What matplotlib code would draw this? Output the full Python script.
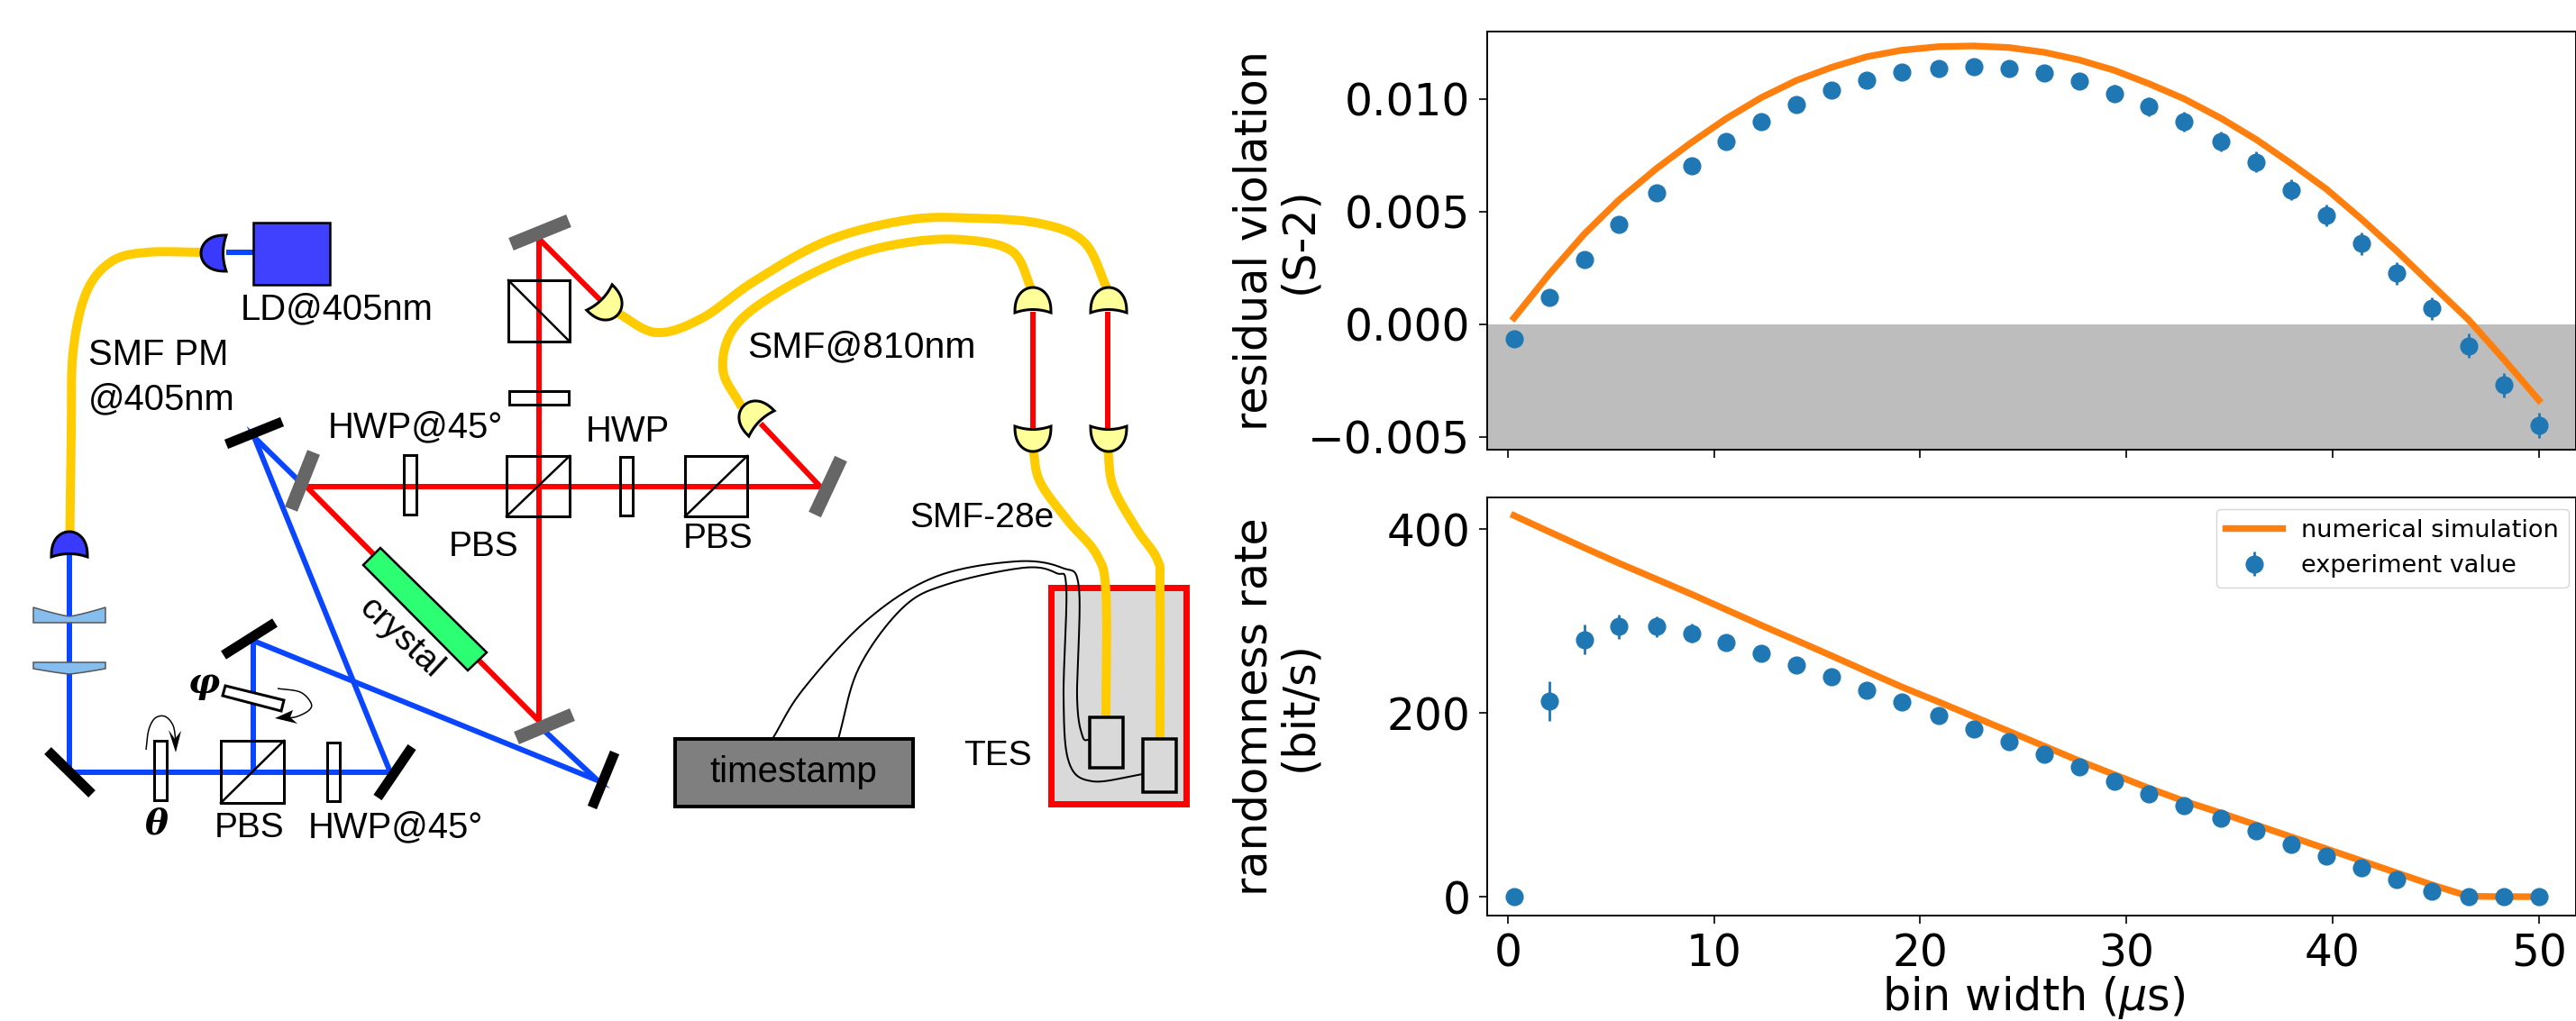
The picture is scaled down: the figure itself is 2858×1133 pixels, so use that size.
import numpy as np
import matplotlib
matplotlib.use('Agg')
import matplotlib.pyplot as plt
from matplotlib.patches import Polygon, Rectangle

W, H = 2858, 1133
DPI = 100

# measured data
bin_width = [0.3, 2.0, 3.7, 5.4, 7.2, 8.9, 10.6, 12.3, 14.0, 15.7, 17.4, 19.1, 20.9, 22.6, 24.3,
             26.0, 27.7, 29.4, 31.1, 32.8, 34.6, 36.3, 38.0, 39.7, 41.4, 43.1, 44.8, 46.6, 48.3, 50.0]
violation_exp = [-0.00066, 0.00118, 0.00288, 0.00442, 0.00581, 0.00703, 0.00810, 0.00897, 0.00976, 0.01037,
                 0.01084, 0.01120, 0.01136, 0.01142, 0.01134, 0.01113, 0.01079, 0.01024, 0.00965, 0.00899,
                 0.00810, 0.00720, 0.00596, 0.00484, 0.00357, 0.00225, 0.00070, -0.00096, -0.00271, -0.00449]
violation_err = [0.00030, 0.00030, 0.00030, 0.00030, 0.00030, 0.00030, 0.00030, 0.00030, 0.00030, 0.00030,
                 0.00030, 0.00030, 0.00030, 0.00030, 0.00030, 0.00033, 0.00036, 0.00039, 0.00042, 0.00044,
                 0.00045, 0.00046, 0.00047, 0.00048, 0.00049, 0.00049, 0.00050, 0.00054, 0.00055, 0.00055]
violation_sim = [0.00027, 0.00221, 0.00399, 0.00552, 0.00690, 0.00806, 0.00913, 0.01006, 0.01082, 0.01140,
                 0.01187, 0.01216, 0.01232, 0.01235, 0.01228, 0.01207, 0.01173, 0.01127, 0.01067, 0.01000,
                 0.00913, 0.00819, 0.00712, 0.00599, 0.00466, 0.00325, 0.00175, 0.00018, -0.00157, -0.00338]
rate_exp = [0, 213, 280, 294, 294, 287, 277, 265, 252, 239, 225, 212, 197, 183, 169,
            155, 141, 126, 112, 99, 85, 72, 57, 44, 31, 19, 6, 0, 0, 0]
rate_err = [0, 22, 16, 13, 11, 10, 8, 7, 7, 7, 6, 6, 6, 6, 6,
            6, 6, 6, 6, 6, 6, 6, 6, 5, 5, 5, 4, 0, 0, 0]
rate_sim = [415, 397.4, 380, 363, 345.8, 329.4, 312.4, 295.4, 279, 262.3, 245.3, 228.4, 212, 196, 180,
            164, 148, 133, 118, 104, 91, 78, 65, 52, 39, 26, 13, 0.4, 0, 0]
x_ticks = [0, 10, 20, 30, 40, 50]
violation_ticks = [-0.005, 0.0, 0.005, 0.010]
rate_ticks = [0, 200, 400]

BLUE = '#0a46ff'
RED = '#ff0000'
FIBRE = '#ffcc00'
GRAY = '#666666'
SANS = 'Liberation Sans'


def lw(px):
    return px * 72.0 / DPI


def smooth(points, n=24):
    # catmull-rom through the given points
    p = np.array(points, dtype=float)
    p = np.vstack([2 * p[0] - p[1], p, 2 * p[-1] - p[-2]])
    out = []
    for i in range(1, len(p) - 2):
        t = np.linspace(0, 1, n)[:, None]
        out.append(0.5 * (2 * p[i] + (p[i + 1] - p[i - 1]) * t
                          + (2 * p[i - 1] - 5 * p[i] + 4 * p[i + 1] - p[i + 2]) * t ** 2
                          + (3 * p[i] - p[i - 1] - 3 * p[i + 1] + p[i + 2]) * t ** 3))
    return np.vstack(out)


def beam(ax, pts, color, width=6, z=2):
    pts = np.array(pts)
    ax.plot(pts[:, 0], pts[:, 1], color=color, lw=lw(width), solid_capstyle='butt', solid_joinstyle='miter', zorder=z)


def curve(ax, pts, color, width, z=3):
    c = smooth(pts)
    ax.plot(c[:, 0], c[:, 1], color=color, lw=lw(width), solid_capstyle='butt', zorder=z)


def coupler(ax, x, y, angle, fill):
    # x, y centre of the flat side, angle = direction of the dome in degrees (screen coords)
    t = np.linspace(0, np.pi, 40)
    w_, h_ = 20, 28
    u = w_ * np.cos(t)
    v = h_ * np.sin(t) ** 0.8
    back_u = np.linspace(-w_, w_, 14)
    back_v = 3.5 * (1 - (back_u / w_) ** 2)
    u = np.r_[u, back_u]
    v = np.r_[v, back_v]
    a = np.deg2rad(angle)
    nx, ny = np.cos(a), np.sin(a)
    tx, ty = -ny, nx
    ax.add_patch(Polygon(np.c_[x + u * tx + v * nx, y + u * ty + v * ny], closed=True,
                         facecolor=fill, edgecolor='black', lw=lw(3), zorder=6))


def box(ax, x0, y0, x1, y1, diag=None, fill='none', width=3, z=5):
    ax.add_patch(Rectangle((x0, y0), x1 - x0, y1 - y0, facecolor=fill, edgecolor='black', lw=lw(width), zorder=z))
    if diag == 'up':
        ax.plot([x0, x1], [y1, y0], color='black', lw=lw(2.5), zorder=z)
    if diag == 'down':
        ax.plot([x0, x1], [y0, y1], color='black', lw=lw(2.5), zorder=z)


def label(ax, x, y, s, size=28.8):
    ax.text(x, y, s, fontsize=size, family=SANS, va='baseline', ha='left', color='black', zorder=8)


def draw_setup(ax):
    # beams
    beam(ax, [(77, 611), (77, 857), (433, 857), (282, 485), (330, 532)], BLUE)
    beam(ax, [(281, 857), (281, 711), (663, 866), (605, 812)], BLUE)
    beam(ax, [(251, 280), (281, 280)], BLUE)
    beam(ax, [(667, 334), (598, 265), (598, 800), (340, 540), (910, 540), (844, 470)], RED)
    beam(ax, [(1146, 346), (1146, 475)], RED)
    beam(ax, [(1229.5, 346), (1229.5, 475)], RED)

    # lenses
    tt = np.linspace(-1, 1, 30)
    upper = np.c_[77 + 40 * tt, 684 - 10 * np.abs(tt) ** 1.2]
    ax.add_patch(Polygon(np.vstack([upper, [(117, 691), (37, 691)]]), closed=True,
                         facecolor='#85bdee', edgecolor='#555555', lw=lw(1.5), zorder=4))
    lower = np.c_[77 + 40 * tt, 748 - 6 * np.abs(tt) ** 1.2]
    ax.add_patch(Polygon(np.vstack([[(37, 735), (117, 735)], lower[::-1]]), closed=True,
                         facecolor='#85bdee', edgecolor='#555555', lw=lw(1.5), zorder=4))

    # mirrors
    for (a, b) in [((53, 833), (102, 881)), ((457, 829), (419, 885)), ((305, 691), (248, 727)),
                   ((313, 468), (251, 493)), ((682, 835), (657, 896))]:
        ax.plot([a[0], b[0]], [a[1], b[1]], color='black', lw=lw(11), solid_capstyle='butt', zorder=5)
    for (a, b) in [((348, 502), (323, 565)), ((631, 245), (567, 271)), ((635, 793), (573, 819)),
                   ((933, 509), (904, 571))]:
        ax.plot([a[0], b[0]], [a[1], b[1]], color=GRAY, lw=lw(15), solid_capstyle='butt', zorder=5)

    # cubes and wave plates
    box(ax, 245, 822, 315, 891, 'up')
    box(ax, 562, 506, 632, 573, 'up')
    box(ax, 564, 311, 632, 379, 'down')
    box(ax, 760, 506, 829, 573, 'up')
    box(ax, 171, 822, 185, 888)
    box(ax, 363, 824, 377, 889)
    box(ax, 565, 434, 631, 449)
    box(ax, 448, 505, 462, 571)
    box(ax, 688, 507, 702, 572)
    ax.add_patch(Polygon([(250, 761), (315, 777), (312, 789), (247, 772)], closed=True,
                         facecolor='white', edgecolor='black', lw=lw(3), zorder=5))

    # crystal
    ax.add_patch(Polygon([(422, 608), (540, 724), (519, 744), (403, 627)], closed=True,
                         facecolor='#2dff73', edgecolor='black', lw=lw(2.5), zorder=5))

    # laser
    box(ax, 281, 247, 366, 316, fill='#4040ff', width=2.5)

    # fibres
    curve(ax, [(77.5, 592), (79, 487), (81, 391), (96, 324), (124, 290), (163, 280), (225, 280)], FIBRE, 10)
    curve(ax, [(683, 346), (728, 369), (779, 353), (837, 312), (918, 267), (1007, 244), (1078, 242),
               (1154, 248), (1203, 269), (1229, 322)], FIBRE, 10)
    curve(ax, [(823, 452), (802, 410), (815, 363), (864, 324), (940, 286), (1007, 269), (1069, 266),
               (1123, 279), (1145, 322)], FIBRE, 10)

    # fridge, drawn under the fibres that enter it
    ax.add_patch(Rectangle((1166, 652), 150, 240, facecolor='#d9d9d9', edgecolor=RED, lw=lw(7), zorder=2))
    curve(ax, [(1146, 498), (1154, 535), (1185, 578), (1217, 616), (1227, 659), (1227, 795)], FIBRE, 10)
    curve(ax, [(1229, 498), (1235, 540), (1261, 587), (1284, 621), (1287, 654), (1287, 819)], FIBRE, 10)

    # couplers
    coupler(ax, 251, 281, 180, '#3a3aff')
    coupler(ax, 77, 618, -90, '#3a3aff')
    coupler(ax, 665, 330, 45, '#ffff99')
    coupler(ax, 845, 470, -135, '#ffff99')
    for xc in [1146, 1230]:
        coupler(ax, xc, 347, -90, '#ffff99')
        coupler(ax, xc, 473, 90, '#ffff99')

    # wires and detectors
    curve(ax, [(857, 820), (891, 765), (962, 688), (1038, 640), (1127, 623), (1178, 630), (1197, 652),
               (1195, 774), (1201, 817), (1209, 821)], 'black', 2)
    curve(ax, [(930, 820), (953, 741), (1002, 674), (1052, 648), (1136, 630), (1172, 636), (1183, 652),
               (1180, 774), (1186, 846), (1212, 867), (1268, 859)], 'black', 2)
    box(ax, 1209, 796, 1246, 852, fill='#d9d9d9', width=3.5)
    box(ax, 1268, 820, 1305, 879, fill='#d9d9d9', width=3.5)
    box(ax, 749, 820, 1013, 895, fill='#7f7f7f', width=4)
    ax.text(880, 857, 'timestamp', fontsize=29, family=SANS, ha='center', va='center', zorder=8)

    # rotation arrows
    curve(ax, [(162, 832), (165, 810), (172, 797), (183, 795), (192, 805), (195, 822)], 'black', 1.5)
    ax.add_patch(Polygon([(195, 835), (187, 810), (194, 820), (201, 811)], closed=True, facecolor='black',
                         edgecolor='none', zorder=7))
    curve(ax, [(308, 764), (333, 768), (345, 780), (343, 788), (330, 795), (318, 797)], 'black', 1.5)
    ax.add_patch(Polygon([(305, 797), (330, 803), (322, 796), (325, 788)], closed=True, facecolor='black',
                         edgecolor='none', zorder=7))

    # labels
    label(ax, 267, 354, 'LD@405nm')
    label(ax, 98, 405, 'SMF PM')
    label(ax, 98, 454, '@405nm')
    label(ax, 364, 485, 'HWP@45°')
    label(ax, 650, 490, 'HWP')
    label(ax, 498, 617, 'PBS', 28)
    label(ax, 758, 608, 'PBS', 28)
    label(ax, 238, 929, 'PBS', 28)
    label(ax, 342, 929, 'HWP@45°')
    label(ax, 829, 396, 'SMF@810nm', 29.5)
    label(ax, 1009, 585, 'SMF-28e', 28)
    label(ax, 1069, 849, 'TES', 28)
    ax.text(445, 708, 'crystal', fontsize=28, family=SANS, rotation=-43, rotation_mode='anchor',
            ha='center', va='center', zorder=8)
    ax.text(174, 915, 'θ', fontsize=28, family='DejaVu Serif', style='italic', weight='bold',
            ha='center', va='center', zorder=8)
    ax.text(226, 758, 'φ', fontsize=28, family='DejaVu Serif', style='italic', weight='bold',
            ha='center', va='center', zorder=8)


fig = plt.figure(figsize=(W / DPI, H / DPI), dpi=DPI)

setup_ax = fig.add_axes([0, 0, 1, 1])
setup_ax.set_xlim(0, W)
setup_ax.set_ylim(H, 0)
setup_ax.axis('off')
draw_setup(setup_ax)


def plot_axes(left, top, right, bottom):
    return fig.add_axes([left / W, 1 - bottom / H, (right - left) / W, (bottom - top) / H])


x_min, x_max = -1.0, 51.8

ax1 = plot_axes(1650, 35, W, 499)
ax1.plot(bin_width, violation_sim, color='tab:orange', lw=5.3)
ax1.errorbar(bin_width, violation_exp, yerr=violation_err, fmt='o', color='tab:blue', ms=13.5, elinewidth=2)
ax1.axhspan(-0.00558, 0, color='#bdbdbd', lw=0, zorder=0)
ax1.set_xlim(x_min, x_max)
ax1.set_ylim(-0.00558, 0.01299)
ax1.set_xticks(x_ticks)
ax1.set_xticklabels([])
ax1.set_yticks(violation_ticks)
ax1.set_ylabel('residual violation\n(S-2)', fontsize=35.5, linespacing=1.05)
ax1.yaxis.set_label_coords(-0.153, 0.5)

ax2 = plot_axes(1650, 552, W, 1016)
ax2.plot(bin_width, rate_sim, color='tab:orange', lw=5.3, label='numerical simulation')
ax2.errorbar(bin_width, rate_exp, yerr=rate_err, fmt='o', color='tab:blue', ms=13.5, elinewidth=2,
             label='experiment value')
ax2.set_xlim(x_min, x_max)
ax2.set_ylim(-20.6, 434.7)
ax2.set_xticks(x_ticks)
ax2.set_yticks(rate_ticks)
ax2.set_xlabel(r'bin width ($\mu$s)', fontsize=35.5, va='baseline')
ax2.xaxis.set_label_coords(0.502, -0.2265)
ax2.set_ylabel('randomness rate\n(bit/s)', fontsize=35.5, linespacing=1.05)
ax2.yaxis.set_label_coords(-0.153, 0.5)
ax2.legend(loc='upper right', bbox_to_anchor=(0.9934, 0.972), borderaxespad=0, fontsize=19.5, handlelength=2.3)

for ax in (ax1, ax2):
    ax.tick_params(labelsize=35, length=6.5, width=1.2, pad=7)
    for s in ax.spines.values():
        s.set_linewidth(1.4)

fig.savefig('out.png', dpi=DPI)
